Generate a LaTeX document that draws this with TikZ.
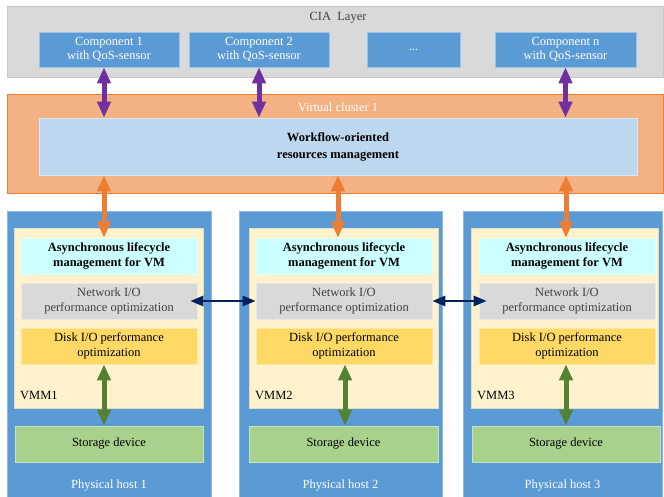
\documentclass[tikz,border=0pt]{standalone}
\usepackage{fontspec}
\setmainfont{Liberation Serif}
\usetikzlibrary{arrows.meta,calc}
\definecolor{ciagray}{HTML}{D9D9D9}
\definecolor{compblue}{HTML}{5B9BD5}
\definecolor{vcorange}{HTML}{F4B183}
\definecolor{vcedge}{HTML}{ED7D31}
\definecolor{wfblue}{HTML}{BDD7EE}
\definecolor{vmmcream}{HTML}{FFF2CC}
\definecolor{asynccyan}{HTML}{CCFFFF}
\definecolor{diskyellow}{HTML}{FFD966}
\definecolor{storgreen}{HTML}{A9D18E}
\definecolor{arrpurple}{HTML}{7030A0}
\definecolor{arrorange}{HTML}{ED7D31}
\definecolor{arrgreen}{HTML}{548235}
\definecolor{arrblue}{HTML}{002060}
\definecolor{txtgray}{HTML}{404040}
\tikzset{
  txt/.style={font=\fontsize{12.5}{14.5}\selectfont, align=center, inner sep=0pt},
  box/.style={txt, draw=#1!60!white, line width=0.6pt, fill=#1, minimum height=36pt},
  compbox/.style={box=compblue, text=white, minimum height=35pt},
  asyncbox/.style={box=asynccyan, minimum width=176pt, font=\fontsize{12.5}{14.5}\selectfont\bfseries},
  netbox/.style={box=ciagray, minimum width=176pt, text=txtgray},
  diskbox/.style={box=diskyellow, minimum width=176pt},
  storbox/.style={box=storgreen, minimum width=188pt},
  hostbox/.style={fill=compblue, draw=compblue!70!white, line width=0.6pt},
  vmmbox/.style={fill=vmmcream, draw=vmmcream!80!gray, line width=0.6pt},
  bigarrow/.style={{Triangle[width=13pt,length=16pt]}-{Triangle[width=13pt,length=16pt]}, line width=5pt},
  parrow/.style={bigarrow, draw=arrpurple},
  oarrow/.style={bigarrow, draw=arrorange},
  garrow/.style={bigarrow, draw=arrgreen},
  barrow/.style={{Triangle[width=10pt,length=13pt]}-{Triangle[width=10pt,length=13pt]}, line width=2.6pt, draw=arrblue},
}
\begin{document}
\begin{tikzpicture}[x=1pt,y=-1pt]
\useasboundingbox (0,0) rectangle (664,497);
% CIA layer
\draw[fill=ciagray, draw=ciagray!80!gray, line width=0.6pt] (7,6) rectangle (663,77);
\node[txt, text=txtgray] (cia) at (338,18) {CIA\ \ Layer};
\node[compbox, minimum width=140pt] (c1) at (109,49.5) {Component 1\\with QoS-sensor};
\node[compbox, minimum width=140pt] (c2) at (259,49.5) {Component 2\\with QoS-sensor};
\node[compbox, minimum width=93pt] (cd) at (413.5,49.5) {...};
\node[compbox, minimum width=141pt] (cn) at (565.5,49.5) {Component n\\with QoS-sensor};
% Virtual cluster
\draw[fill=vcorange, draw=vcedge, line width=0.8pt] (7,94) rectangle (663,193);
\node[txt, text=white] (vc) at (338,107) {Virtual cluster 1};
\node[box=wfblue, minimum width=598pt, minimum height=57pt, font=\fontsize{12.5}{17}\selectfont\bfseries] (wf) at (338,146.5) {Workflow-oriented\\resources management};
% Physical hosts
\draw[hostbox] (7,211) rectangle (211,497);
\draw[hostbox] (239,211) rectangle (442,497);
\draw[hostbox] (463,211) rectangle (662,497);
\draw[vmmbox] (14,228) rectangle (203,408);
\draw[vmmbox] (249,228) rectangle (438,408);
\draw[vmmbox] (471,228) rectangle (658,408);
% host 1
\node[asyncbox] (a1) at (109,256) {Asynchronous lifecycle\\management for VM};
\node[netbox] (n1) at (109,301) {Network I/O\\performance optimization};
\node[diskbox] (d1) at (109,346) {Disk I/O performance\\optimization};
\node[txt, anchor=west] (vmm1) at (20,395) {VMM1};
\node[storbox] (s1) at (109,444) {Storage device};
\node[txt, text=white] (p1) at (109,486) {Physical host 1};
% host 2
\node[asyncbox] (a2) at (344,256) {Asynchronous lifecycle\\management for VM};
\node[netbox] (n2) at (344,301) {Network I/O\\performance optimization};
\node[diskbox] (d2) at (344,346) {Disk I/O performance\\optimization};
\node[txt, anchor=west] (vmm2) at (255,395) {VMM2};
\node[storbox, minimum width=189pt] (s2) at (343.5,444) {Storage device};
\node[txt, text=white] (p2) at (340.5,486) {Physical host 2};
% host 3
\node[asyncbox] (a3) at (567,256) {Asynchronous lifecycle\\management for VM};
\node[netbox] (n3) at (567,301) {Network I/O\\performance optimization};
\node[diskbox] (d3) at (567,346) {Disk I/O performance\\optimization};
\node[txt, anchor=west] (vmm3) at (477,395) {VMM3};
\node[storbox] (s3) at (566,444) {Storage device};
\node[txt, text=white] (p3) at (562.5,486) {Physical host 3};
% purple arrows
\draw[parrow] ([xshift=-5pt]c1.south) -- ([xshift=-5pt]c1.south |- wf.north);
\draw[parrow] (c2.south) -- (c2.south |- wf.north);
\draw[parrow] (cn.south) -- (cn.south |- wf.north);
% orange arrows
\draw[oarrow] ([xshift=-5pt]a1.north |- wf.south) -- ([xshift=-5pt]a1.north);
\draw[oarrow] ([xshift=-6pt]a2.north |- wf.south) -- ([xshift=-6pt]a2.north);
\draw[oarrow] ([xshift=-1pt]a3.north |- wf.south) -- ([xshift=-1pt]a3.north);
% green arrows
\draw[garrow] ([xshift=-5pt]d1.south) -- ([xshift=-5pt]d1.south |- s1.north);
\draw[garrow] ([xshift=1pt]d2.south) -- ([xshift=1pt]d2.south |- s2.north);
\draw[garrow] ([xshift=-1pt]d3.south) -- ([xshift=-1pt]d3.south |- s3.north);
% blue arrows
\draw[barrow] ([xshift=-7pt]n1.east) -- (n2.west);
\draw[barrow] (n2.east) -- ([xshift=8pt]n3.west);
\end{tikzpicture}
\end{document}
